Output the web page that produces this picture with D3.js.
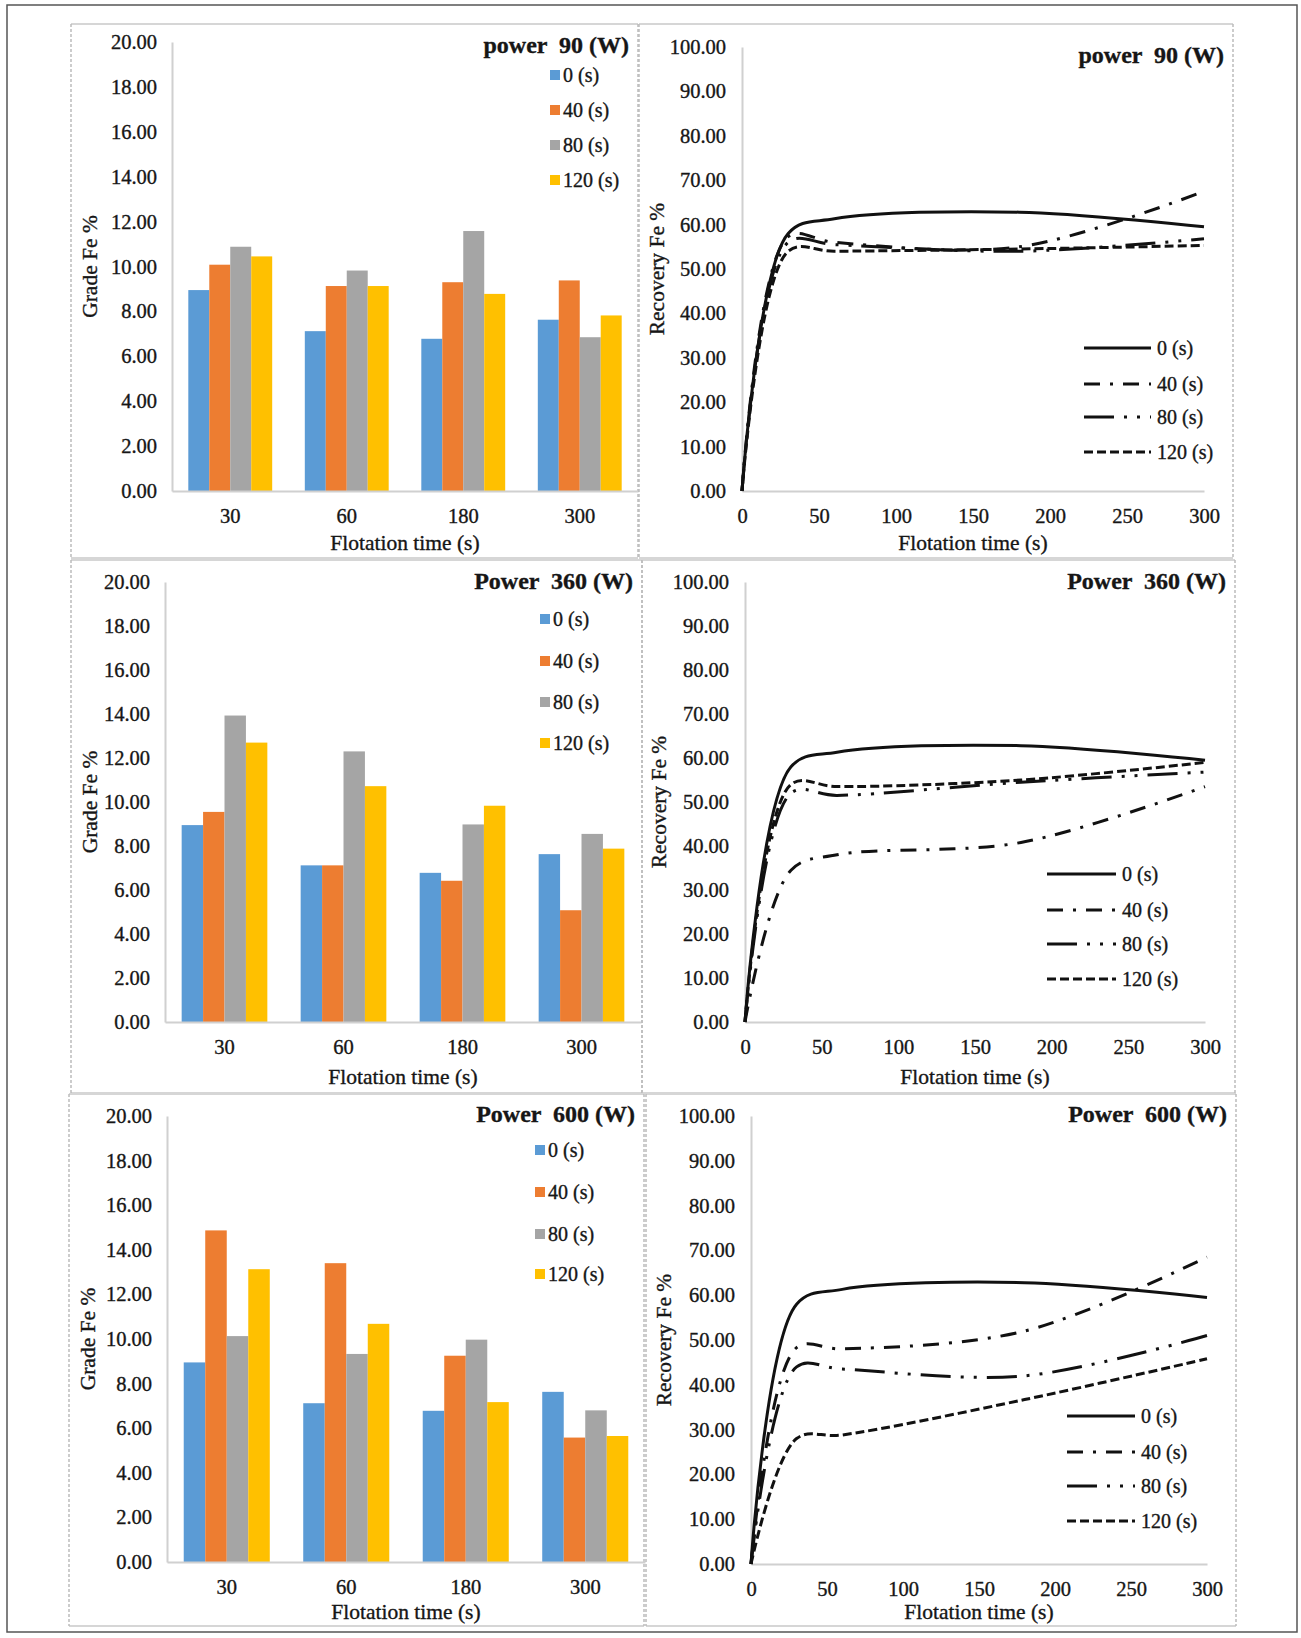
<!DOCTYPE html>
<html>
<head>
<meta charset="utf-8">
<script src="https://cdn.jsdelivr.net/npm/d3@7"></script>
<style>
  body { margin: 0; background: #fff; }
  text { font-family: "Liberation Serif", "Times New Roman", serif; fill: #161616; stroke: #161616; stroke-width: 0.35px; }
</style>
</head>
<body>
<svg width="1301" height="1638"></svg>
<script>
// ---- data ----
var categories = ["30", "60", "180", "300"];
var seriesNames = ["0 (s)", "40 (s)", "80 (s)", "120 (s)"];
var barColors = ["#5b9bd5", "#ed7d31", "#a5a5a5", "#ffc000"];
var gradeTicks = [0, 2, 4, 6, 8, 10, 12, 14, 16, 18, 20];
var recoveryTicks = [0, 10, 20, 30, 40, 50, 60, 70, 80, 90, 100];
var timeTicks = [0, 50, 100, 150, 200, 250, 300];
var timePoints = [0, 30, 60, 180, 300];

// grade Fe % (bars), one array per pretreatment time, values per flotation time
var grade0 = [8.95, 7.12, 6.78, 7.63];
var grade90 = [grade0, [10.08, 9.13, 9.3, 9.38], [10.88, 9.82, 11.58, 6.85], [10.45, 9.13, 8.78, 7.82]];
var grade360 = [grade0, [9.55, 7.12, 6.42, 5.08], [13.93, 12.3, 8.98, 8.55], [12.7, 10.72, 9.83, 7.88]];
var grade600 = [grade0, [14.87, 13.4, 9.25, 5.58], [10.13, 9.33, 9.97, 6.8], [13.13, 10.68, 7.17, 5.65]];

// recovery Fe % (lines), values at timePoints
var recovery0 = [0, 58, 61.3, 62.8, 59.5];
var recovery90 = [recovery0, [0, 57.3, 56, 55, 67.5], [0, 56, 55.5, 54, 56.8], [0, 54, 54, 54.5, 55.3]];
var recovery360 = [recovery0, [0, 34.5, 38, 40.8, 53.5], [0, 52, 51.5, 54.5, 56.8], [0, 54, 53.5, 55, 59]];
var recovery600 = [recovery0, [0, 48.3, 48, 52, 68.5], [0, 44, 43.5, 42, 51], [0, 28, 28.8, 36.7, 45.8]];

var titles = ["power  90 (W)", "Power  360 (W)", "Power  600 (W)"];
var dashes = [null, "16,10,3,10", "30,10,3,10,3,10", "9,4"];

// ---- layout ----
var svg = d3.select("svg");

var barPanels = [
  { data: grade90, title: titles[0], box: [71, 24, 638, 558], left: 172, right: 638, top: 42, bottom: 491,
    titleY: 53, legX: 550, legY: [75, 110, 145, 180], yLabX: 89, xLabY: 550 },
  { data: grade360, title: titles[1], box: [71, 560, 642, 1093], left: 165, right: 641, top: 582, bottom: 1022,
    titleY: 589, legX: 540, legY: [619, 661, 702, 743], yLabX: 89, xLabY: 1084 },
  { data: grade600, title: titles[2], box: [69, 1094, 644, 1626], left: 167, right: 645, top: 1116, bottom: 1562,
    titleY: 1122, legX: 535, legY: [1150, 1192, 1234, 1274], yLabX: 87, xLabY: 1619 }
];

var linePanels = [
  { data: recovery90, title: titles[0], box: [639, 24, 1233, 558], left: 742, right: 1204, top: 47, bottom: 491,
    titleY: 63, legX: 1084, legW: 67, legY: [348, 384, 417, 452], yLabX: 656, xLabY: 550 },
  { data: recovery360, title: titles[1], box: [642, 560, 1235, 1093], left: 745, right: 1205, top: 582, bottom: 1022,
    titleY: 589, legX: 1047, legW: 69, legY: [874, 910, 944, 979], yLabX: 658, xLabY: 1084 },
  { data: recovery600, title: titles[2], box: [646, 1094, 1236, 1626], left: 751, right: 1207, top: 1116, bottom: 1564,
    titleY: 1122, legX: 1067, legW: 68, legY: [1416, 1452, 1486, 1521], yLabX: 663, xLabY: 1619 }
];

// outer frame
svg.append("rect")
  .attr("x", 7).attr("y", 5).attr("width", 1290).attr("height", 1627)
  .attr("fill", "none").attr("stroke", "#555").attr("stroke-width", 1.5);

function drawBox(b) {
  var g = svg.append("g");
  // horizontal edges solid, vertical edges dashed
  [[b[0], b[1], b[2], b[1]], [b[0], b[3], b[2], b[3]]].forEach(function (l) {
    g.append("line").attr("x1", l[0]).attr("y1", l[1]).attr("x2", l[2]).attr("y2", l[3])
      .attr("stroke", "#d6d6d6").attr("stroke-width", 2);
  });
  [[b[0], b[1], b[0], b[3]], [b[2], b[1], b[2], b[3]]].forEach(function (l) {
    g.append("line").attr("x1", l[0]).attr("y1", l[1]).attr("x2", l[2]).attr("y2", l[3])
      .attr("stroke", "#bcbcbc").attr("stroke-width", 1.5).attr("stroke-dasharray", "3,2");
  });
}

function styleAxis(sel) {
  sel.select(".domain").attr("stroke", "#d0d0d0").attr("stroke-width", 2);
  sel.selectAll("text").attr("font-size", 20.5).attr("fill", "#161616")
    .style("font-family", "'Liberation Serif', serif");
}

function axisTitles(p, yText) {
  svg.append("text")
    .attr("transform", "translate(" + p.yLabX + "," + ((p.top + p.bottom) / 2) + ") rotate(-90)")
    .attr("text-anchor", "middle").attr("dy", "0.35em")
    .attr("font-size", 21.5).text(yText);
  svg.append("text")
    .attr("x", (p.left + p.right) / 2).attr("y", p.xLabY)
    .attr("text-anchor", "middle").attr("font-size", 21.5).text("Flotation time (s)");
  svg.append("text")
    .attr("x", p.box[2] - 9).attr("y", p.titleY)
    .attr("text-anchor", "end").attr("font-size", 24).attr("font-weight", "bold")
    .style("white-space", "pre").text(p.title);
}

// bar charts
barPanels.forEach(function (p) {
  drawBox(p.box);
  var x = d3.scaleBand().domain(categories).range([p.left, p.right])
    .paddingInner(0.28).paddingOuter(0.14);
  var xs = d3.scaleBand().domain(seriesNames).range([0, x.bandwidth()]);
  var y = d3.scaleLinear().domain([0, 20]).range([p.bottom, p.top]);

  var gy = svg.append("g").attr("transform", "translate(" + p.left + ",0)")
    .call(d3.axisLeft(y).tickValues(gradeTicks).tickSize(0).tickSizeOuter(0).tickPadding(15)
      .tickFormat(d3.format(".2f")));
  styleAxis(gy);

  seriesNames.forEach(function (s, si) {
    svg.append("g").selectAll("rect")
      .data(p.data[si])
      .enter()
      .append("rect")
      .attr("x", function (d, i) { return x(categories[i]) + xs(s); })
      .attr("y", function (d) { return y(d); })
      .attr("width", xs.bandwidth())
      .attr("height", function (d) { return y(0) - y(d); })
      .attr("fill", barColors[si]);
  });

  var gx = svg.append("g").attr("transform", "translate(0," + p.bottom + ")")
    .call(d3.axisBottom(x).tickSize(0).tickSizeOuter(0).tickPadding(17));
  styleAxis(gx);

  // legend
  seriesNames.forEach(function (s, si) {
    svg.append("rect").attr("x", p.legX).attr("y", p.legY[si] - 5)
      .attr("width", 10).attr("height", 10).attr("fill", barColors[si]);
    svg.append("text").attr("x", p.legX + 13).attr("y", p.legY[si])
      .attr("dy", "0.35em").attr("font-size", 20).text(s);
  });

  axisTitles(p, "Grade Fe %");
});

// line charts
linePanels.forEach(function (p) {
  drawBox(p.box);
  var x = d3.scaleLinear().domain([0, 300]).range([p.left, p.right]);
  var y = d3.scaleLinear().domain([0, 100]).range([p.bottom, p.top]);

  var gy = svg.append("g").attr("transform", "translate(" + p.left + ",0)")
    .call(d3.axisLeft(y).tickValues(recoveryTicks).tickSize(0).tickSizeOuter(0).tickPadding(16)
      .tickFormat(d3.format(".2f")));
  styleAxis(gy);
  var gx = svg.append("g").attr("transform", "translate(0," + p.bottom + ")")
    .call(d3.axisBottom(x).tickValues(timeTicks).tickSize(0).tickSizeOuter(0).tickPadding(17));
  styleAxis(gx);

  var line = d3.line()
    .x(function (d, i) { return x(timePoints[i]); })
    .y(function (d) { return y(d); })
    .curve(d3.curveCatmullRom.alpha(0.5));

  p.data.forEach(function (vals, si) {
    svg.append("path").datum(vals)
      .attr("d", line)
      .attr("fill", "none").attr("stroke", "#111").attr("stroke-width", 3)
      .attr("stroke-dasharray", dashes[si]);
  });

  // legend
  seriesNames.forEach(function (s, si) {
    svg.append("line").attr("x1", p.legX).attr("x2", p.legX + p.legW)
      .attr("y1", p.legY[si]).attr("y2", p.legY[si])
      .attr("stroke", "#111").attr("stroke-width", 3).attr("stroke-dasharray", dashes[si]);
    svg.append("text").attr("x", p.legX + p.legW + 6).attr("y", p.legY[si])
      .attr("dy", "0.35em").attr("font-size", 20).text(s);
  });

  axisTitles(p, "Recovery Fe %");
});
</script>
</body>
</html>
